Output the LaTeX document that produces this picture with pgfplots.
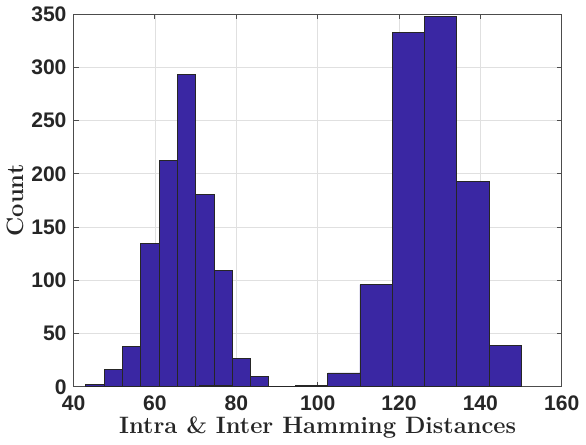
\documentclass[border=0pt]{standalone}
\usepackage{fontspec}
\usepackage{pgfplots}
\pgfplotsset{compat=1.18}
\newfontfamily\arial{Liberation Sans}
\definecolor{barfill}{HTML}{3A27A3}
\definecolor{txt}{HTML}{262626}
\begin{document}
\begin{tikzpicture}
\begin{axis}[
  width=243pt, height=185.5pt, scale only axis,
  xmin=40, xmax=160, ymin=0, ymax=350,
  xtick={40,60,...,160}, ytick={0,50,...,350},
  grid=major,
  major grid style={draw=black!12, line width=0.4pt},
  axis line style={draw=black!70, line width=0.5pt},
  tick style={draw=black!70, line width=0.5pt},
  tick align=inside, major tick length=2.5pt,
  /pgf/number format/assume math mode=true,
  ticklabel style={font=\arial\bfseries\fontsize{10.5}{12}\selectfont, text=txt},
  xticklabel style={yshift=-1pt},
  label style={font=\bfseries\fontsize{11.8}{14}\selectfont, text=txt},
  xlabel={Intra \& Inter Hamming Distances},
  ylabel={Count},
  xlabel style={yshift=4pt},
  ylabel style={yshift=-3pt},
]
% intra-distance histogram (bin width 4.5)
\addplot[ybar interval, fill=barfill, draw=black!85, line width=0.4pt] coordinates {
  (43,2) (47.5,16) (52,38) (56.5,135) (61,213) (65.5,293)
  (70,181) (74.5,109) (79,27) (83.5,10) (88,10)
};
% inter-distance histogram (bin width 7.9)
\addplot[ybar interval, fill=barfill, draw=black!85, line width=0.4pt] coordinates {
  (70.9,1) (78.8,0) (86.7,0) (94.6,1) (102.5,13) (110.4,96)
  (118.3,333) (126.3,348) (134.2,193) (142.1,39) (150,39)
};
\end{axis}
\end{tikzpicture}
\end{document}
